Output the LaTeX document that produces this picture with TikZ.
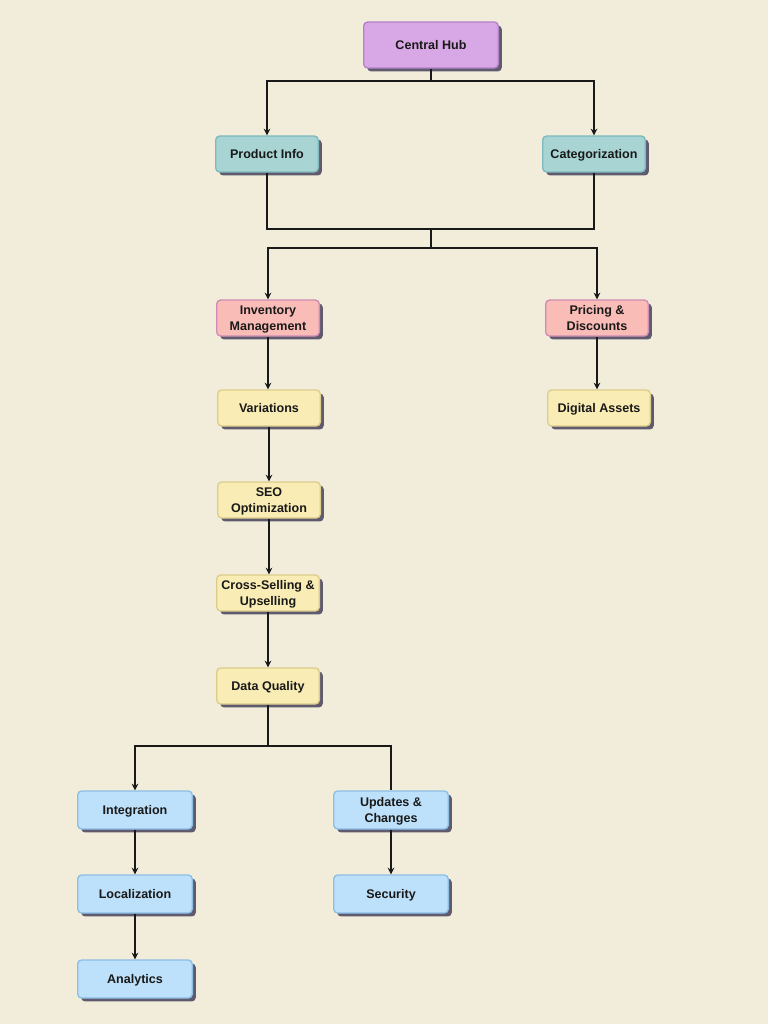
\documentclass[tikz,border=0pt]{standalone}
\usepackage{fontspec}
\setmainfont{Liberation Sans}
\usetikzlibrary{arrows.meta,shadows,positioning}
\definecolor{bgcream}{RGB}{241,237,218}
\definecolor{shadowgray}{RGB}{95,90,110}
\definecolor{hubfill}{RGB}{216,168,230}
\definecolor{hubline}{RGB}{180,130,200}
\definecolor{tealfill}{RGB}{168,212,212}
\definecolor{tealline}{RGB}{125,185,190}
\definecolor{pinkfill}{RGB}{250,188,182}
\definecolor{pinkline}{RGB}{208,140,180}
\definecolor{yellowfill}{RGB}{249,236,180}
\definecolor{yellowline}{RGB}{220,205,140}
\definecolor{bluefill}{RGB}{189,225,250}
\definecolor{blueline}{RGB}{140,190,230}

\begin{document}
\begin{tikzpicture}[x=0.75pt,y=-0.75pt,>=Stealth,
  font=\fontsize{9.4}{12}\selectfont\bfseries,
  box/.style={draw,line width=1pt,rounded corners=3pt,align=center,
    inner sep=0pt,minimum width=77pt,minimum height=27pt,text=black!90,
    text depth=0pt,
    drop shadow={shadow xshift=2.6pt,shadow yshift=-2.6pt,fill=shadowgray,opacity=1}},
  hubbox/.style={box,fill=hubfill,draw=hubline,minimum width=101pt,minimum height=34.5pt},
  tealbox/.style={box,fill=tealfill,draw=tealline},
  pinkbox/.style={box,fill=pinkfill,draw=pinkline},
  yellowbox/.style={box,fill=yellowfill,draw=yellowline},
  bluebox/.style={box,fill=bluefill,draw=blueline,minimum width=86pt,minimum height=28.5pt},
  link/.style={line width=1pt,black!90},
  arr/.style={link,-{Stealth[length=5pt,width=5pt]}}]

%% ── background ───────────────────────────────────────────────────────────────
\fill[bgcream] (0,0) rectangle (768,1024);

%% ── top level ────────────────────────────────────────────────────────────────
\node[hubbox] (hub) at (431,45) {Central Hub};
\node[tealbox] (info) at (267,154) {Product Info};
\node[tealbox] (cat) at (594,154) {Categorization};

%% ── second level ─────────────────────────────────────────────────────────────
\node[pinkbox] (inv) at (268,318) {Inventory\\Management};
\node[pinkbox] (price) at (597,318) {Pricing \&\\Discounts};
\node[yellowbox] (assets) at (599,408) {Digital Assets};

%% ── left chain ───────────────────────────────────────────────────────────────
\node[yellowbox] (var) at (269,408) {Variations};
\node[yellowbox] (seo) at (269,500) {SEO\\Optimization};
\node[yellowbox] (cross) at (268,593) {Cross-Selling \&\\Upselling};
\node[yellowbox] (dq) at (268,686) {Data Quality};

%% ── bottom branches ──────────────────────────────────────────────────────────
\node[bluebox] (integ) at (135,810) {Integration};
\node[bluebox] (local) at (135,894) {Localization};
\node[bluebox] (analytics) at (135,979) {Analytics};
\node[bluebox] (upd) at (391,810) {Updates \&\\Changes};
\node[bluebox] (sec) at (391,894) {Security};

%% ── junction points ──────────────────────────────────────────────────────────
\coordinate (hubsplit) at (hub.south |- 0,81);
\coordinate (merge) at (hub.south |- 0,229);
\coordinate (split) at (hub.south |- 0,248);
\coordinate (dqsplit) at (dq.south |- 0,746);

%% ── connectors ───────────────────────────────────────────────────────────────
\draw[link] (hub.south) -- (hubsplit);
\draw[arr] (hubsplit) -| (info.north);
\draw[arr] (hubsplit) -| (cat.north);

\draw[link] (info.south) |- (merge);
\draw[link] (cat.south) |- (merge);
\draw[link] (merge) -- (split);
\draw[arr] (split) -| (inv.north);
\draw[arr] (split) -| (price.north);

\draw[arr] (price.south) -- (price.south |- assets.north);
\draw[arr] (inv.south) -- (inv.south |- var.north);
\draw[arr] (var.south) -- (var.south |- seo.north);
\draw[arr] (seo.south) -- (seo.south |- cross.north);
\draw[arr] (cross.south) -- (cross.south |- dq.north);

\draw[link] (dq.south) -- (dqsplit);
\draw[arr] (dqsplit) -| (integ.north);
\draw[link] (dqsplit) -| (upd.north);

\draw[arr] (integ.south) -- (local.north);
\draw[arr] (local.south) -- (analytics.north);
\draw[arr] (upd.south) -- (sec.north);

\end{tikzpicture}
\end{document}
